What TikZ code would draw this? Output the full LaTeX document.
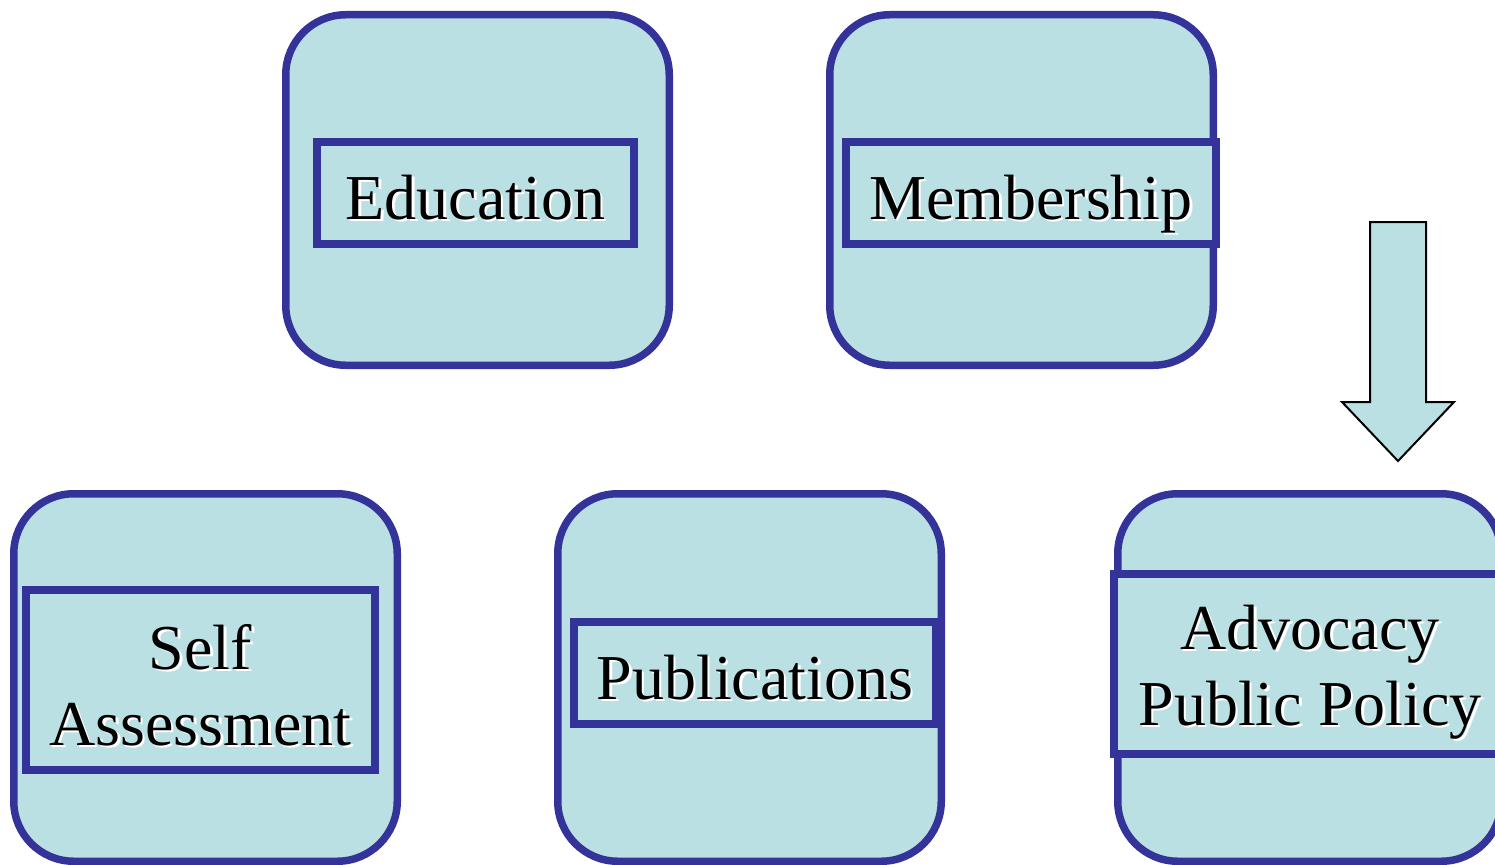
\documentclass[tikz,border=0pt]{standalone}
\usepackage{fontspec}
\setmainfont{Liberation Serif}

\definecolor{boxfill}{HTML}{BBE0E3}
\definecolor{boxline}{HTML}{333399}

% white drop shadow behind the black letters
\newcommand{\shadowed}[1]{\makebox[0pt][l]{\hspace{2.5pt}\raisebox{-2.5pt}{\color{white}#1}}#1}

\tikzset{
  outerbox/.style={draw=boxline, fill=boxfill, line width=7.5pt, rounded corners=60pt,
    inner sep=0pt},
  labelbox/.style={draw=boxline, fill=boxfill, line width=7.5pt, inner sep=0pt,
    align=center, font=\fontsize{64}{76}\selectfont, text height=52pt, text depth=0pt}
}

\begin{document}
\begin{tikzpicture}[x=1pt, y=-1pt]
  \useasboundingbox (0,0) rectangle (1495,864);
  \clip (0,0) rectangle (1495,864);

  % the big rounded boxes
  \node[outerbox, minimum width=383.5pt, minimum height=350.5pt] (edubox) at (477.5,190) {};
  \node[outerbox, minimum width=383.5pt, minimum height=350.5pt] (membox) at (1021.5,190) {};
  \node[outerbox, minimum width=383.5pt, minimum height=367.5pt] (selfbox) at (205.5,677.5) {};
  \node[outerbox, minimum width=383.5pt, minimum height=367.5pt] (pubbox) at (749.5,677.5) {};
  \node[outerbox, minimum width=383.5pt, minimum height=367.5pt] (advbox) at (1309.5,677.5) {};

  % the labels, each in its own frame
  \node[labelbox, minimum width=317pt, minimum height=102pt] (edu) at (475.5,193) {\shadowed{Education}};
  \node[labelbox, minimum width=370pt, minimum height=102pt] (mem) at (1031,193) {\shadowed{Membership}};
  \node[labelbox, minimum width=349pt, minimum height=180pt, text height=130pt]
    (self) at (200.5,680) {\shadowed{Self}\\\shadowed{Assessment}};
  \node[labelbox, minimum width=362pt, minimum height=102pt] (pub) at (755,673) {\shadowed{Publications}};
  \node[labelbox, minimum width=392pt, minimum height=180pt, text height=122pt]
    (adv) at (1310,664) {\shadowed{Advocacy}\\\shadowed{Public Policy}};

  % block arrow pointing down to the advocacy box
  \draw[fill=boxfill, line width=2pt, line join=miter]
    (1370,222) -- (1426,222) -- (1426,402) -- (1454,402) -- (1398,461)
    -- (1342,402) -- (1370,402) -- cycle;
\end{tikzpicture}
\end{document}
